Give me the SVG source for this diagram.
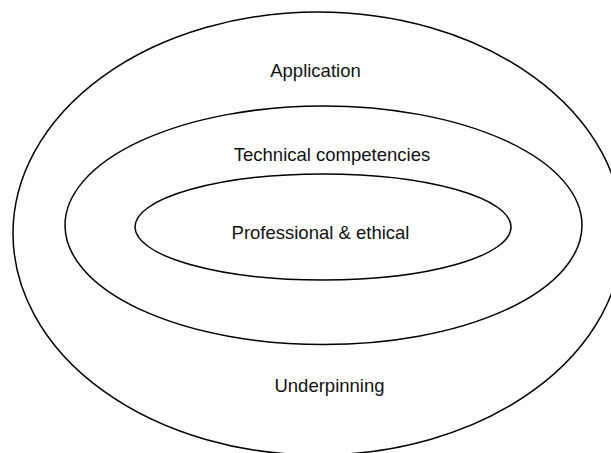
<svg xmlns="http://www.w3.org/2000/svg" width="611" height="453" viewBox="0 0 611 453">
<style>
.ring{fill:none;stroke:#000;stroke-width:1.5}
.lbl{font-family:"Liberation Sans",Arial,sans-serif;font-size:18.5px;fill:#111;text-anchor:middle}
</style>
<rect width="611" height="453" fill="#fff"/>
<g id="outer">
<ellipse class="ring" cx="318" cy="233.5" rx="305" ry="221.5"/>
<text class="lbl" x="315.5" y="77.3">Application</text>
<text class="lbl" x="329.5" y="391.7">Underpinning</text>
</g>
<g id="middle">
<ellipse class="ring" cx="323.5" cy="225.3" rx="258.5" ry="119.3"/>
<text class="lbl" x="332" y="160.7">Technical competencies</text>
</g>
<g id="inner">
<ellipse class="ring" cx="323" cy="227" rx="188" ry="53"/>
<text class="lbl" x="320.5" y="239.3">Professional &amp; ethical</text>
</g>
<g id="connectors"/>
</svg>
